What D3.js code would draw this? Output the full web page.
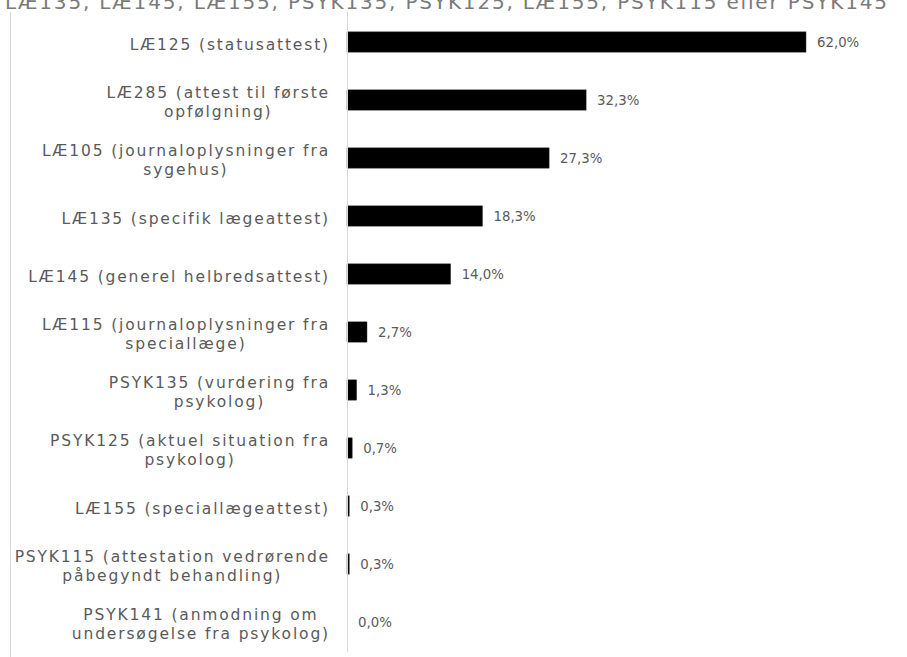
<!DOCTYPE html>
<html>
<head>
<meta charset="utf-8">
<script src="https://cdn.jsdelivr.net/npm/d3@7"></script>
<style>
  html, body { margin: 0; padding: 0; background: #fff; }
  svg { display: block; }
</style>
</head>
<body>
<svg id="chart" width="907" height="657"></svg>
<script>
const titleText = "LÆ135, LÆ145, LÆ155, PSYK135, PSYK125, LÆ155, PSYK115 eller PSYK145";
const categories = [
  "LÆ125 (statusattest)",
  "LÆ285 (attest til første\nopfølgning)",
  "LÆ105 (journaloplysninger fra\nsygehus)",
  "LÆ135 (specifik lægeattest)",
  "LÆ145 (generel helbredsattest)",
  "LÆ115 (journaloplysninger fra\nspeciallæge)",
  "PSYK135 (vurdering fra\npsykolog)",
  "PSYK125 (aktuel situation fra\npsykolog)",
  "LÆ155 (speciallægeattest)",
  "PSYK115 (attestation vedrørende\npåbegyndt behandling)",
  "PSYK141 (anmodning om\nundersøgelse fra psykolog)"
];
const values = [62.0, 32.3, 27.3, 18.3, 14.0, 2.7, 1.3, 0.7, 0.3, 0.3, 0.0];
const valueLabels = ["62,0%", "32,3%", "27,3%", "18,3%", "14,0%", "2,7%", "1,3%", "0,7%", "0,3%", "0,3%", "0,0%"];

const svg = d3.select("#chart");
const font = "'DejaVu Sans', Verdana, sans-serif";

// title (partially cut off at top, as in the reference)
svg.append("text")
  .attr("x", 5).attr("y", 9)
  .attr("font-family", font).attr("font-size", 20)
  .attr("fill", "#7a7a7a")
  .attr("textLength", 882).attr("lengthAdjust", "spacing")
  .text(titleText);

// left frame line
svg.append("line")
  .attr("x1", 10.5).attr("x2", 10.5).attr("y1", 12).attr("y2", 657)
  .attr("stroke", "#d9d9d9").attr("stroke-width", 1);

const x = d3.scaleLinear().domain([0, 62]).range([347, 806]);
const y = d3.scaleBand().domain(categories).range([13, 651]).paddingInner(0.65).paddingOuter(0.325);

// bars
svg.append("g").selectAll("rect")
  .data(values)
  .join("rect")
  .attr("x", x(0))
  .attr("y", (d, i) => y(categories[i]))
  .attr("width", d => x(d) - x(0))
  .attr("height", y.bandwidth())
  .attr("fill", "#000")
  .attr("stroke", "#3a3a3a")
  .attr("stroke-width", d => d > 0 ? 0.5 : 0);

// axis line
svg.append("line")
  .attr("x1", x(0) + 0.5).attr("x2", x(0) + 0.5).attr("y1", 12).attr("y2", 652)
  .attr("stroke", "#d9d9d9").attr("stroke-width", 1);

// category labels: block right-aligned, lines centred within the block
const lineH = 19;
const rightEdge = 330;
const labels = svg.append("g");
categories.forEach((c, i) => {
  const lines = c.split("\n");
  const cy = y(c) + y.bandwidth() / 2 + 2.3;
  const t = labels.append("text")
    .attr("font-family", font).attr("font-size", 15.5)
    .attr("letter-spacing", 1.85)
    .attr("fill", "#5a5a5a")
    .attr("text-anchor", "middle");
  const spans = lines.map((l, k) => t.append("tspan")
      .attr("y", cy + (k - (lines.length - 1) / 2) * lineH)
      .attr("dy", "0.35em")
      .text(l));
  const maxW = d3.max(spans, s => s.node().getComputedTextLength());
  spans.forEach(s => s.attr("x", rightEdge - maxW / 2));
});

// value labels
svg.append("g").selectAll("text")
  .data(values)
  .join("text")
  .attr("x", d => x(d) + 11)
  .attr("y", (d, i) => y(categories[i]) + y.bandwidth() / 2)
  .attr("dy", "0.35em")
  .attr("font-family", font).attr("font-size", 13.3)
  .attr("fill", "#5a5a5a")
  .text((d, i) => valueLabels[i]);
</script>
</body>
</html>
